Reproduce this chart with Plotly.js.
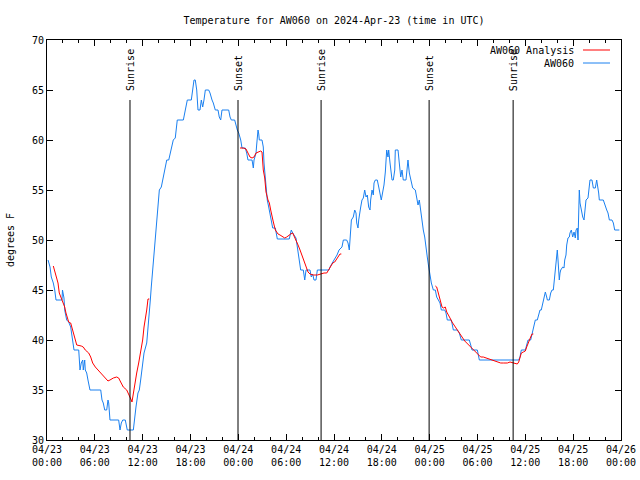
<!DOCTYPE html>
<html>
<head>
<meta charset="utf-8">
<script src="https://cdn.plot.ly/plotly-3.0.1.min.js"></script>
<style>html,body{margin:0;padding:0;background:#fff}#chart{width:640px;height:480px}</style>
</head>
<body>
<div id="chart"></div>
<script>
// hours since 2024-04-23 00:00 UTC
const blueHours = [0.13,0.38,0.54,0.79,0.97,1.13,1.88,1.94,2.13,2.22,2.47,2.72,2.97,3.14,3.30,3.39,3.98,4.05,4.14,4.30,4.48,4.55,4.73,4.80,4.98,5.14,5.39,6.74,6.90,7.06,7.24,7.49,7.65,7.74,7.90,8.99,9.16,9.32,9.50,9.82,10.07,10.83,11.00,11.16,11.41,11.58,11.75,11.92,12.17,12.51,12.67,12.83,12.96,13.08,13.33,13.51,13.67,13.92,14.09,14.34,14.51,14.76,15.02,15.27,15.59,15.84,16.09,16.34,17.10,17.35,17.60,18.10,18.28,18.44,18.60,18.78,18.94,19.19,19.36,19.53,19.69,19.86,20.28,20.45,20.70,20.86,21.11,21.45,21.61,21.79,21.95,22.79,22.96,23.12,23.54,23.71,23.87,24.05,24.30,24.46,24.87,25.05,25.21,25.72,25.88,25.97,26.22,26.30,26.47,26.56,26.63,26.97,27.13,27.22,27.38,27.47,27.63,27.81,27.97,28.14,28.31,28.64,28.89,30.39,30.57,30.64,30.82,30.98,31.23,31.40,31.57,31.74,31.82,32.15,32.33,32.49,32.99,33.15,33.33,33.49,33.74,33.91,35.37,35.50,35.75,36.00,36.38,36.63,37.00,37.17,37.59,37.76,37.92,38.10,38.18,38.42,38.60,38.76,38.85,39.01,39.10,39.35,39.51,39.68,39.85,40.02,40.18,40.35,40.52,40.60,40.77,40.93,41.02,41.18,41.43,41.61,41.77,41.93,42.11,42.27,42.44,42.52,42.61,42.77,42.86,43.03,43.19,43.28,43.44,43.62,43.69,44.03,44.19,44.37,44.53,44.69,45.03,45.20,45.28,45.45,45.62,45.87,46.20,46.37,46.54,46.70,46.88,47.04,47.20,47.38,47.54,47.70,47.88,48.04,48.21,48.46,48.71,48.88,49.05,49.30,49.46,49.89,50.05,50.21,50.72,50.89,50.97,51.47,51.72,51.97,52.97,53.15,53.31,53.98,54.15,54.23,59.17,59.33,59.42,59.50,60.00,60.09,60.17,60.34,60.67,60.75,60.93,61.09,61.25,61.50,61.68,61.84,62.00,62.18,62.34,62.51,62.68,62.76,63.01,63.18,63.35,63.51,63.60,63.69,63.76,63.85,63.94,64.01,64.10,64.19,64.26,64.35,64.44,64.69,64.85,64.94,65.10,65.19,65.35,65.52,65.60,65.77,65.94,66.11,66.27,66.36,66.52,66.61,66.70,66.77,66.86,67.02,67.20,67.36,67.45,67.61,67.86,67.95,68.11,68.36,68.53,68.78,68.95,69.20,69.28,69.78,70.03,70.21,70.37,70.54,70.87,71.04,71.21,71.79];
const blueTemps = [48.0,47.3,46.3,45.7,45.0,44.0,44.0,45.0,44.2,43.0,42.0,41.8,41.3,40.3,39.3,39.0,39.0,37.7,37.0,37.7,38.0,37.0,38.0,37.0,36.7,36.0,35.0,35.0,34.0,33.7,33.0,33.0,34.0,33.7,32.0,32.0,31.0,31.7,32.0,32.0,31.0,31.0,32.3,33.3,34.7,35.0,36.0,37.3,38.7,39.7,41.0,43.0,44.0,45.3,47.7,49.3,51.3,53.0,55.0,55.3,56.0,56.7,58.0,58.0,59.0,60.0,60.2,62.0,62.0,63.0,64.0,64.0,65.3,66.0,66.0,65.0,63.0,63.0,64.0,63.3,64.0,65.0,65.0,64.7,64.0,63.7,63.0,63.0,62.3,62.0,63.0,63.0,62.3,62.0,62.0,61.3,61.0,60.7,60.0,59.2,59.2,58.7,58.0,58.0,57.2,58.0,58.7,59.5,61.0,60.6,60.0,60.0,59.3,57.7,56.3,54.8,54.0,53.3,52.7,51.8,51.2,51.2,50.1,50.1,50.7,51.0,50.7,50.5,50.2,49.3,48.5,47.7,47.0,47.0,46.0,47.0,47.0,46.3,46.6,46.0,46.0,47.0,47.0,47.3,47.7,48.0,48.5,49.0,49.3,50.0,50.0,49.7,49.0,51.0,52.0,52.3,53.0,52.7,51.7,51.2,52.0,53.3,54.0,54.2,55.0,54.3,54.5,53.3,53.0,54.0,55.0,54.5,55.7,56.0,56.0,55.3,54.7,54.0,54.8,55.5,56.8,58.0,59.0,58.3,59.0,57.7,56.7,56.0,56.0,57.0,59.0,59.0,57.7,56.3,57.0,56.0,56.0,57.0,58.0,56.7,56.0,55.2,55.0,54.3,53.5,54.0,52.7,52.0,51.0,50.3,49.5,48.3,47.3,46.5,45.7,45.0,45.0,44.3,44.0,43.7,43.0,43.0,42.7,42.0,42.0,41.5,41.0,41.0,40.7,40.0,40.0,39.5,39.0,39.0,38.3,38.0,38.0,38.3,38.7,39.0,39.0,39.3,39.7,40.0,40.0,40.3,41.0,41.7,42.0,42.0,42.7,43.0,43.0,43.7,44.3,44.8,44.3,44.0,44.0,44.7,45.0,45.0,45.7,46.5,47.3,48.3,48.7,49.0,48.0,46.7,46.0,46.7,47.0,47.3,47.2,48.0,48.5,49.5,50.2,50.3,50.7,51.0,50.3,50.8,50.2,51.0,51.2,50.0,53.8,55.0,53.7,53.0,52.3,52.0,53.0,54.0,54.2,54.7,56.0,56.0,55.2,55.2,56.0,54.7,54.0,54.0,53.3,53.0,52.7,52.0,52.0,51.7,51.0,51.0];

const redHours = [0.79,1.04,1.22,1.38,1.54,1.72,1.88,2.04,2.22,2.38,2.55,2.72,2.97,3.14,3.30,3.47,3.73,4.30,4.55,4.80,5.23,5.48,5.73,6.06,6.49,6.81,7.24,7.65,7.90,8.32,8.74,8.99,9.24,9.57,10.00,10.32,10.57,10.66,10.83,11.00,11.25,11.50,11.67,11.83,12.00,12.17,12.33,12.51,12.67,12.83,
  null,
  24.21,24.62,24.96,25.21,25.46,25.72,25.97,26.22,26.56,26.81,26.97,27.05,27.13,27.31,27.47,27.72,27.89,28.06,28.22,28.39,28.64,28.98,29.23,29.57,29.82,30.07,30.32,30.57,30.82,31.07,31.23,31.49,31.74,31.99,32.24,32.49,32.74,32.99,33.40,33.91,34.24,34.75,35.09,35.34,35.59,35.84,36.09,36.34,36.50,36.75,36.92,
  null,
  48.71,48.88,49.05,49.21,49.39,49.55,49.72,49.96,50.14,50.30,50.55,50.80,51.05,51.30,51.55,51.81,52.06,52.40,52.65,52.90,53.15,53.40,53.65,53.90,54.15,54.40,54.73,55.07,55.41,55.73,56.16,56.57,56.91,57.24,57.74,58.08,58.42,58.74,58.99,59.17,59.33,59.50,59.75,60.00,60.17,60.34,60.50,60.67,60.84,61.00];
const redTemps = [47.4,46.7,46.0,45.7,44.7,44.3,44.0,43.7,43.3,42.7,42.2,41.8,41.7,41.2,40.7,40.0,39.5,39.4,39.3,39.0,38.7,38.3,37.7,37.3,36.9,36.7,36.3,35.9,36.0,36.2,36.3,36.2,35.8,35.3,35.0,34.5,34.0,33.8,34.7,35.7,36.7,37.7,38.5,39.3,40.0,41.3,42.0,43.0,44.1,44.1,
  null,
  59.2,59.2,59.1,58.7,58.3,58.2,58.3,58.7,58.8,58.9,58.8,58.0,57.0,56.2,54.8,54.0,53.7,53.0,52.3,51.8,51.0,50.6,50.5,50.3,50.2,50.3,50.5,50.6,50.7,50.3,50.0,49.5,49.0,48.5,48.0,47.3,46.8,46.6,46.5,46.5,46.6,46.7,46.7,47.0,47.3,47.7,47.8,48.1,48.3,48.6,48.6,
  null,
  45.4,45.3,44.8,44.3,43.8,43.3,43.2,43.3,42.8,42.5,42.2,41.8,41.5,41.2,40.8,40.5,40.2,39.9,39.7,39.5,39.3,39.1,38.9,38.7,38.5,38.3,38.3,38.2,38.1,38.0,37.9,37.8,37.7,37.7,37.7,37.8,37.7,37.6,37.6,37.8,38.3,38.7,38.8,38.9,39.3,39.7,40.0,40.3,40.6,40.6];

const eventLabels = ["Sunrise","Sunset","Sunrise","Sunset","Sunrise"];
const eventHours = [10.41, 23.96, 34.38, 47.93, 58.47];

const seriesNames = ["AW060 Analysis","AW060"];
const seriesColors = ["#ff0000","#1a80f0"];

function toDate(h){
  if (h === null) return null;
  const d = new Date(Date.UTC(2024,3,23) + h*3600000);
  return d.toISOString().slice(0,19).replace('T',' ');
}

const font = {family: '"DejaVu Sans Mono", monospace', size: 10, color: '#000'};

const traces = [
  {x: blueHours.map(toDate), y: blueTemps, type: 'scatter', mode: 'lines', name: seriesNames[1],
   line: {color: seriesColors[1], width: 1}, showlegend: false},
  {x: redHours.map(toDate), y: redTemps, type: 'scatter', mode: 'lines', name: seriesNames[0],
   line: {color: seriesColors[0], width: 1}, connectgaps: false, showlegend: false}
];

const shapes = [];
const annotations = [];
eventHours.forEach((h, i) => {
  shapes.push({type: 'line', xref: 'x', yref: 'y', x0: toDate(h), x1: toDate(h), y0: 30, y1: 64,
    line: {color: '#000', width: 1}});
  annotations.push({xref: 'x', yref: 'y', x: toDate(h), y: 64.7, text: eventLabels[i], showarrow: false,
    textangle: -90, xanchor: 'center', yanchor: 'bottom', font: font});
});

// gnuplot-style legend: text then sample line
seriesNames.forEach((n, i) => {
  const yp = 1 - (10 + 13*i) / 400;
  annotations.push({xref: 'paper', yref: 'paper', x: (576-47)/574, y: yp, text: n, showarrow: false,
    xanchor: 'right', yanchor: 'middle', font: font});
  shapes.push({type: 'line', xref: 'paper', yref: 'paper', x0: (583-47)/574, x1: (610-47)/574, y0: yp, y1: yp,
    line: {color: seriesColors[i], width: 1}});
});

const layout = {
  width: 640, height: 480,
  margin: {l: 47, r: 19, t: 40, b: 40},
  paper_bgcolor: '#fff', plot_bgcolor: '#fff',
  font: font,
  showlegend: false,
  title: {text: 'Temperature for AW060 on 2024-Apr-23 (time in UTC)', font: font,
    x: 0.5, xref: 'paper', y: 1 - 20/480, yref: 'container', yanchor: 'middle'},
  xaxis: {
    type: 'date', range: [toDate(0), toDate(72)],
    tick0: toDate(0), dtick: 6*3600000, tickformat: '%m/%d<br>%H:%M',
    ticks: 'inside', ticklen: 6, tickcolor: '#000', tickwidth: 1,
    minor: {dtick: 2*3600000, ticks: 'inside', ticklen: 3, tickcolor: '#000', showgrid: false},
    showline: true, linecolor: '#000', linewidth: 1, mirror: 'allticks',
    showgrid: false, zeroline: false, tickfont: font, automargin: false
  },
  yaxis: {
    range: [30, 70], dtick: 5, tick0: 30,
    ticks: 'inside', ticklen: 6, tickcolor: '#000', tickwidth: 1,
    showline: true, linecolor: '#000', linewidth: 1, mirror: 'allticks',
    showgrid: false, zeroline: false, tickfont: font, automargin: false,
    title: {text: 'degrees F', font: font, standoff: 15}
  },
  shapes: shapes,
  annotations: annotations
};

Plotly.newPlot('chart', traces, layout, {staticPlot: true, displayModeBar: false});
</script>
</body>
</html>
